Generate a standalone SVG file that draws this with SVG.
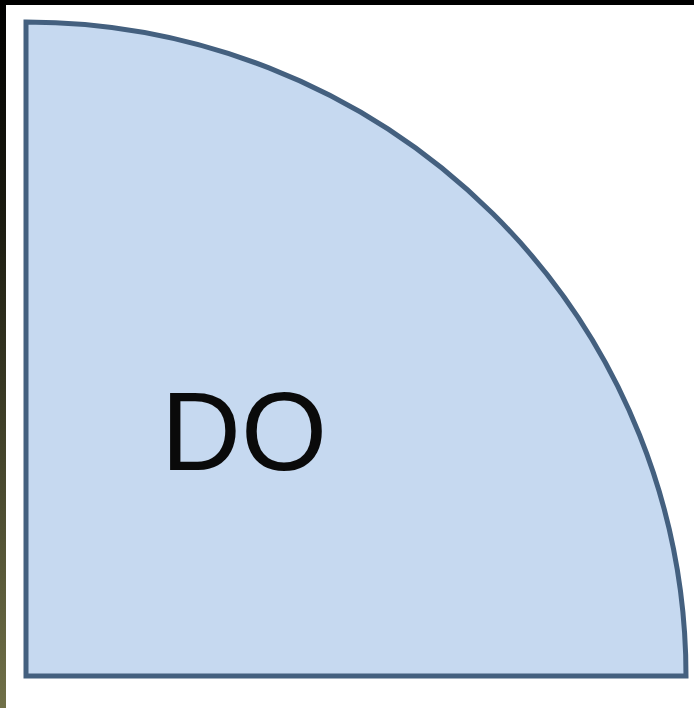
<svg xmlns="http://www.w3.org/2000/svg" width="694" height="708" viewBox="0 0 694 708">
  <defs>
    <linearGradient id="leftbar" x1="0" y1="0" x2="0" y2="1">
      <stop offset="0" stop-color="#000000"/>
      <stop offset="0.3" stop-color="#1a1a10"/>
      <stop offset="1" stop-color="#707048"/>
    </linearGradient>
  </defs>
  <style>
    .shape { fill: #c6d9f0; stroke: #44607f; stroke-width: 5; }
    .label { font-family: "Liberation Sans", Arial, sans-serif; font-size: 112px; fill: #0a0a0a; }
  </style>
  <rect x="0" y="0" width="694" height="708" fill="#ffffff"/>
  <rect x="0" y="0" width="694" height="5" fill="#000000"/>
  <rect x="0" y="0" width="6" height="708" fill="url(#leftbar)"/>
  <g id="quadrant">
    <path class="shape" d="M 26 676 L 26 22 A 660 654 0 0 1 686 676 Z"/>
    <text class="label" x="161" y="470" textLength="166" lengthAdjust="spacingAndGlyphs">DO</text>
  </g>
</svg>
